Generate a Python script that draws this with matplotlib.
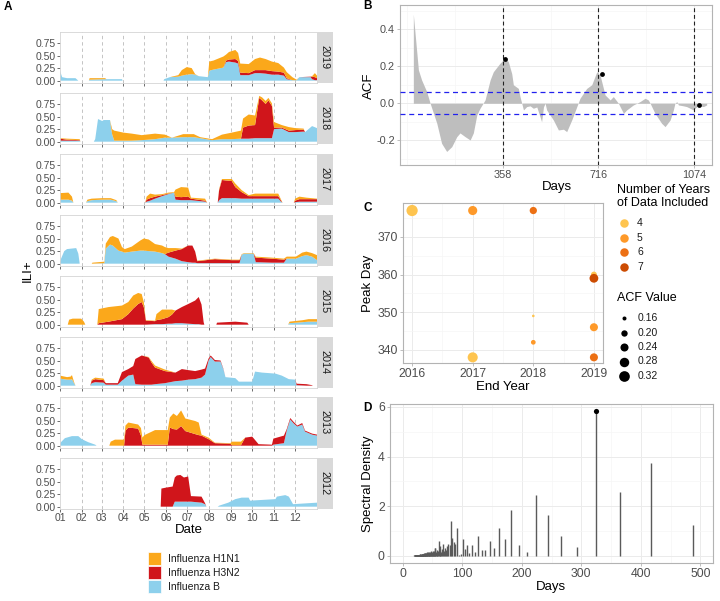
import numpy as np
import matplotlib
matplotlib.use("Agg")
import matplotlib.pyplot as plt
from matplotlib.patches import Rectangle

plt.rcParams['font.family'] = ['Liberation Sans', 'DejaVu Sans']

# ---------------- DATA ----------------
month_starts = [0, 31, 59, 90, 120, 151, 181, 212, 243, 273, 304, 334]
month_labels = ["01", "02", "03", "04", "05", "06", "07", "08", "09", "10", "11", "12"]
facet_years = [2019, 2018, 2017, 2016, 2015, 2014, 2013, 2012]
strain_names = ["Influenza H1N1", "Influenza H3N2", "Influenza B"]

days_2019 = [0, 3, 10, 22, 26, 41, 42, 64, 66, 88, 89, 147, 148, 156, 168, 173, 180, 187, 192, 197,
             210, 212, 218, 232, 236, 240, 249, 253, 256, 268, 277, 284, 292, 301, 310, 318, 322, 330,
             336, 340, 356, 358, 362, 365]
b_2019 = [.20, .07, .05, .05, 0, 0, .02, .03, .03, .03, 0, 0, .03, .07, .08, .10, .12, .13, .12, .09,
          .07, .20, .22, .26, .37, .38, .36, .34, .11, .11, .15, .15, .14, .12, .12, .10, .03, .01,
          .01, .07, .07, .03, .01, .01]
h3_2019 = [0, 0, 0, 0, 0, 0, 0, 0, 0, 0, 0, 0, 0, 0, 0, 0, 0, 0, 0, 0,
           0, 0, 0, 0, .03, .04, .07, .05, .05, .04, .06, .06, .07, .07, .06, .06, .02, 0,
           0, 0, .01, .05, .06, .04]
h1_2019 = [0, 0, 0, 0, 0, 0, .03, .02, 0, 0, 0, 0, 0, 0, .03, .11, .15, .12, .01, 0,
           0, .18, .18, .22, .12, .15, .18, .16, .18, .18, .22, .25, .22, .19, .17, .10, .12, .06,
           .01, 0, 0, .01, .08, .05]

days_2018 = [0, 10, 28, 29, 48, 50, 54, 60, 62, 71, 74, 77, 90, 102, 116, 135, 149, 159, 175, 190,
             199, 216, 230, 244, 257, 260, 268, 277, 283, 287, 292, 296, 301, 304, 315, 325, 334, 346,
             348, 358, 365]
b_2018 = [.02, .02, .02, 0, 0, .05, .45, .41, .43, .43, .15, .02, .02, .02, .03, .05, .08, .08, .09, .09,
          .07, .03, .05, .05, .06, .06, .06, .07, .07, .07, .07, .07, .07, .25, .26, .19, .19, .20,
          .19, .31, .27]
h3_2018 = [.04, .02, .01, 0, 0, 0, 0, 0, 0, 0, 0, 0, 0, 0, 0, 0, 0, 0, 0, 0,
           0, 0, 0, 0, 0, .22, .26, .26, .80, .75, .68, .75, .64, .03, .02, .03, .04, .04,
           0, 0, 0]
h1_2018 = [.01, .02, .02, 0, 0, 0, 0, 0, 0, 0, .10, .20, .16, .14, .10, .11, .06, 0, .06, .06,
           .02, .02, .09, .13, .16, .18, .22, .19, .04, .06, .06, .05, .05, .11, .05, .07, .04, .02,
           0, 0, 0]

days_2017 = [0, 12, 17, 19, 37, 39, 45, 60, 72, 80, 82, 121, 123, 128, 135, 145, 154, 162, 164, 172,
             182, 186, 206, 209, 224, 226, 230, 244, 249, 258, 268, 277, 296, 310, 314, 316, 332, 334,
             340, 350, 365]
b_2017 = [.06, .06, .04, 0, 0, .03, .05, .06, .06, .03, 0, 0, .02, .04, .08, .13, .17, .20, .06, .05,
          .05, .05, .02, 0, 0, .05, .09, .09, .09, .08, .08, .08, .08, .08, .02, 0, 0, .01,
          .02, .02, .02]
h3_2017 = [0, 0, 0, 0, 0, 0, 0, 0, 0, 0, 0, 0, .04, .05, .04, .02, .01, 0, .06, .06,
           .07, .03, .02, 0, 0, .20, .36, .34, .22, .13, .05, .05, .05, .05, .02, 0, 0, .03,
           .05, .05, .05]
h1_2017 = [.13, .14, .08, 0, 0, .03, .03, .03, .03, .02, 0, 0, .06, .09, .04, .02, .02, .01, .14, .20,
           .18, .02, .04, 0, 0, .02, .02, .04, .07, .04, .02, .05, .05, .05, .02, 0, 0, .04,
           .05, .03, .01]

days_2016 = [0, 6, 10, 23, 26, 28, 45, 46, 63, 65, 71, 75, 83, 88, 92, 102, 114, 119, 126, 135,
             145, 149, 154, 164, 173, 182, 188, 192, 195, 220, 244, 255, 258, 262, 275, 278, 301, 318,
             322, 335, 344, 350, 358, 365]
b_2016 = [.05, .25, .29, .31, .20, 0, 0, 0, .01, .30, .38, .36, .26, .24, .22, .24, .26, .26, .25, .24,
          .21, .19, .14, .10, .05, .03, .02, .02, .01, .01, .01, .01, .18, .20, .20, .03, .02, .02,
          .10, .10, .15, .17, .14, .07]
h3_2016 = [0, 0, 0, 0, 0, 0, 0, 0, 0, 0, 0, 0, 0, 0, 0, 0, 0, 0, 0, 0,
           0, 0, .08, .16, .24, .33, .34, .22, .04, .08, .06, .06, 0, 0, 0, .09, .08, .06,
           0, 0, 0, 0, 0, 0]
h1_2016 = [0, 0, 0, 0, 0, 0, 0, .02, .03, .10, .15, .19, .24, .09, .07, .10, .20, .24, .23, .15,
           .15, .14, .09, .05, .01, 0, 0, 0, .01, .01, .01, .01, .01, .01, .01, .02, .02, .02,
           .04, .04, .07, .07, .07, .10]

days_2015 = [0, 11, 13, 18, 30, 34, 36, 53, 55, 69, 88, 97, 104, 111, 116, 119, 122, 135, 137, 145,
             154, 159, 164, 173, 182, 192, 197, 201, 204, 205, 222, 223, 249, 266, 268, 324, 326, 345,
             353, 365]
b_2015 = [0, 0, 0, 0, 0, 0, 0, 0, 0, 0, 0, 0, 0, 0, 0, 0, 0, .01, .01, .01,
          .02, .02, .03, .03, .02, .01, .01, 0, 0, 0, 0, 0, 0, 0, 0, 0, .03, .05,
          .06, .06]
h3_2015 = [0, 0, 0, 0, 0, 0, 0, 0, .03, .06, .11, .21, .32, .41, .45, .35, .08, .06, .08, .10,
           .13, .18, .25, .32, .39, .47, .54, .40, .05, 0, 0, .04, .06, .04, 0, 0, 0, 0,
           0, 0]
h1_2015 = [0, 0, .10, .12, .12, .06, 0, 0, .28, .29, .27, .24, .26, .22, .16, .10, .01, .01, .12, .19,
           .15, .10, 0, 0, 0, 0, 0, 0, 0, 0, 0, 0, 0, 0, 0, 0, .03, .04,
           .05, .05]

days_2014 = [0, 10, 15, 17, 20, 22, 43, 45, 50, 62, 65, 82, 88, 97, 104, 107, 116, 126, 130, 135,
             149, 164, 173, 182, 192, 201, 206, 211, 214, 220, 228, 232, 235, 249, 254, 273, 277, 287,
             306, 315, 325, 334, 336, 350, 358, 359, 365]
b_2014 = [.14, .12, .12, .13, .05, 0, 0, .05, .07, .06, .02, .02, .10, .20, .22, .03, .02, .02, .02, .03,
          .05, .09, .10, .12, .13, .16, .22, .50, .57, .48, .48, .33, .17, .15, .08, .08, .28, .26,
          .24, .20, .13, .12, .01, 0, 0, 0, 0]
h3_2014 = [0, 0, 0, 0, 0, 0, 0, .05, .06, .05, .03, .03, .17, .13, .17, .50, .58, .54, .44, .33,
           .24, .17, .23, .19, .16, .16, .12, .04, .03, .03, .02, .01, 0, 0, 0, 0, 0, 0,
           0, 0, 0, 0, .03, .03, .01, 0, 0]
h1_2014 = [.06, .05, .06, .08, .02, 0, 0, .02, .03, .03, 0, 0, 0, 0, 0, 0, 0, .01, .03, .04,
           .03, 0, 0, 0, 0, 0, 0, 0, 0, 0, 0, 0, 0, 0, 0, 0, 0, 0,
           0, 0, 0, 0, 0, 0, 0, 0, 0]

days_2013 = [0, 7, 17, 26, 31, 40, 50, 52, 70, 72, 78, 91, 93, 97, 111, 115, 117, 120, 135, 153,
             156, 161, 166, 172, 178, 192, 197, 201, 211, 220, 242, 244, 257, 263, 273, 282, 301, 303,
             318, 322, 327, 332, 337, 344, 348, 358, 365]
b_2013 = [.05, .15, .19, .19, .13, .07, .02, 0, 0, 0, 0, 0, 0, 0, 0, 0, 0, 0, 0, 0,
          0, 0, 0, 0, 0, 0, 0, 0, 0, 0, 0, 0, 0, 0, 0, 0, 0, .02,
          .05, .30, .52, .44, .38, .42, .28, .22, .20]
h3_2013 = [0, 0, 0, 0, 0, 0, 0, 0, 0, 0, 0, 0, .30, .36, .34, .20, .02, .02, .02, .02,
           .36, .33, .32, .39, .29, .23, .21, .20, .13, .05, .04, .01, .01, .16, .18, .03, .02, .12,
           .15, .03, .03, .03, .02, .03, .02, .02, .02]
h1_2013 = [0, 0, 0, 0, 0, 0, 0, 0, 0, .08, .12, .12, .10, .10, .08, .15, .14, .19, .29, .29,
           .20, .31, .27, .31, .25, .26, .25, .02, .03, .01, .01, .07, .07, 0, 0, 0, 0, 0,
           0, 0, 0, 0, 0, 0, 0, 0, 0]

days_2012 = [0, 143, 144, 151, 160, 163, 166, 171, 176, 182, 186, 201, 206, 208, 224, 226, 239, 249,
             258, 268, 270, 306, 308, 320, 325, 331, 365]
b_2012 = [0, 0, 0, 0, 0, .10, .10, .10, .10, .10, .10, .08, .05, 0, 0, .02, .08, .15,
          .18, .18, .12, .15, .20, .23, .20, .05, .08]
h3_2012 = [0, 0, .36, .38, .40, .48, .52, .53, .48, .50, .11, .12, .02, 0, 0, 0, 0, 0,
           0, 0, 0, 0, 0, 0, 0, 0, 0]
h1_2012 = [0] * 27

# Panel B: autocorrelation
acf_lag = [22, 41, 53, 72, 85, 110, 128, 147, 166, 185, 197, 216, 235, 247, 260, 272, 291, 310, 322, 347,
           366, 378, 391, 397, 416, 422, 435, 447, 460, 472, 485, 497, 503, 510, 516, 522, 547, 566, 585,
           597, 616, 635, 647, 672, 691, 710, 722, 741, 760, 772, 791, 810, 822, 847, 860, 872, 891, 903,
           910, 928, 953, 966, 985, 997, 1003, 1010, 1016, 1035, 1047, 1060, 1072, 1085, 1097, 1110, 1122]
acf_val = [0.48, 0.18, 0.126, 0.063, 0.0, -0.108, -0.216, -0.26, -0.234, -0.18, -0.16, -0.18, -0.198,
           -0.16, -0.063, -0.027, 0.018, 0.126, 0.17, 0.216, 0.243, 0.225, 0.16, 0.10, 0.08, 0.036,
           -0.036, -0.018, -0.014, -0.027, -0.02, -0.072, -0.10, -0.02, 0.0, -0.036, -0.09, -0.144,
           -0.14, -0.153, -0.09, -0.018, 0.027, 0.08, 0.10, 0.17, 0.153, 0.045, 0.018, 0.036, 0.0,
           -0.054, -0.036, -0.009, 0.0, 0.009, 0.027, 0.018, 0.0, -0.054, -0.108, -0.126, -0.09,
           -0.036, 0.0, 0.009, -0.009, -0.014, -0.018, -0.027, -0.036, -0.018, -0.014, -0.018, -0.009]
acf_year_lines = [358, 716, 1074]
acf_peak_lag = [365, 730, 1095]
acf_peak_val = [0.24, 0.16, -0.01]
acf_ci = 0.06

# Panel C
end_year = [2016, 2017, 2018, 2019, 2019, 2018, 2018, 2019, 2017, 2019]
peak_day = [377, 377, 377, 360, 359, 349, 342, 346, 338, 338]
n_years = [4, 5, 6, 4, 7, 4, 5, 5, 4, 6]
acf_value = [0.34, 0.27, 0.22, 0.19, 0.26, 0.145, 0.17, 0.24, 0.30, 0.24]
n_years_levels = [4, 5, 6, 7]
acf_size_breaks = [0.16, 0.20, 0.24, 0.28, 0.32]

# Panel D: spectral density at harmonics k = 6..150 of a 2922-day series
series_len = 2922
spec_harmonic = list(range(6, 151))
spec_density = [1.23, 3.76, 2.59, 5.83, 0.36, 0.79, 1.64, 2.47, 0.17, 0.43,
                 1.85, 0.68, 1.13, 0.33, 0.60, 0.23, 0.23, 0.79, 0.17, 0.43,
                 0.13, 0.45, 0.27, 0.67, 0.07, 0.05, 1.11, 0.47, 0.57, 0.73,
                 1.40, 0.43, 0.47, 0.40, 0.25, 0.33, 0.20, 0.47, 0.27, 0.15,
                 0.20, 0.40, 0.60, 0.20, 0.10, 0.25, 0.15, 0.33, 0.30, 0.18,
                 0.12, 0.15, 0.20, 0.10, 0.17, 0.12, 0.18, 0.10, 0.15, 0.12,
                 0.16, 0.08, 0.14, 0.10, 0.12, 0.15, 0.09, 0.11, 0.13, 0.08,
                 0.10, 0.12, 0.07, 0.09, 0.10, 0.06, 0.08, 0.09, 0.06, 0.07,
                 0.08, 0.05, 0.07, 0.06, 0.05, 0.06, 0.05, 0.04, 0.05, 0.05,
                 0.06, 0.05, 0.06, 0.05, 0.05, 0.06, 0.04, 0.05, 0.05, 0.04,
                 0.05, 0.04, 0.04, 0.05, 0.03, 0.04, 0.04, 0.03, 0.04, 0.03,
                 0.03, 0.04, 0.03, 0.03, 0.03, 0.02, 0.03, 0.03, 0.02, 0.03,
                 0.02, 0.02, 0.03, 0.02, 0.02, 0.02, 0.02, 0.02, 0.02, 0.02,
                 0.02, 0.01, 0.02, 0.02, 0.01, 0.02, 0.01, 0.02, 0.01, 0.01,
                 0.02, 0.01, 0.01, 0.01, 0.01]

# ---------------- STYLE / LAYOUT ----------------
W, H = 720, 601
C_H1 = "#FBA81B"
C_H3 = "#D0151B"
C_B = "#8DD0EC"
YLORBR = {4: "#FEC44F", 5: "#FE9929", 6: "#EC7014", 7: "#CC4C02"}
TICK_C = "#4D4D4D"
GRID_MAJ = "#EBEBEB"
GRID_MIN = "#F5F5F5"
BORDER = "#B3B3B3"

fig = plt.figure(figsize=(W / 100, H / 100), dpi=100)


def px_axes(x0, y0, x1, y1, **kw):
    return fig.add_axes([x0 / W, 1 - y1 / H, (x1 - x0) / W, (y1 - y0) / H], **kw)


series = {
    2019: (days_2019, b_2019, h3_2019, h1_2019),
    2018: (days_2018, b_2018, h3_2018, h1_2018),
    2017: (days_2017, b_2017, h3_2017, h1_2017),
    2016: (days_2016, b_2016, h3_2016, h1_2016),
    2015: (days_2015, b_2015, h3_2015, h1_2015),
    2014: (days_2014, b_2014, h3_2014, h1_2014),
    2013: (days_2013, b_2013, h3_2013, h1_2013),
    2012: (days_2012, b_2012, h3_2012, h1_2012),
}

facet_tops = [32, 93, 154, 215, 276, 337, 397, 458]
facet_h = 51
for i, (yr, top) in enumerate(zip(facet_years, facet_tops)):
    ax = px_axes(60, top, 317, top + facet_h)
    d, b, h3, h1 = series[yr]
    for m in month_starts[1:]:
        ax.axvline(m, color="#C4C4C4", lw=0.7, ls=(0, (3.5, 3)), zorder=0)
    ax.stackplot(d, b, h3, h1, colors=[C_B, C_H3, C_H1], linewidth=0, zorder=2)
    ax.set_xlim(0, 365)
    ax.set_ylim(-0.046, 0.967)
    ax.set_yticks([0, 0.25, 0.5, 0.75])
    ax.set_yticklabels(["0.00", "0.25", "0.50", "0.75"])
    ax.set_xticks(month_starts)
    if i == len(facet_years) - 1:
        ax.set_xticklabels(month_labels)
    else:
        ax.set_xticklabels([])
        ax.tick_params(axis='x', length=0)
    ax.tick_params(labelsize=7.5, labelcolor=TICK_C, color="#333333", length=2.2, width=0.5, pad=1)
    for s in ax.spines.values():
        s.set_color("#D4D4D4")
        s.set_linewidth(0.6)
    sax = px_axes(317, top, 333, top + facet_h)
    sax.set_facecolor("#D9D9D9")
    sax.set_xticks([])
    sax.set_yticks([])
    for s in sax.spines.values():
        s.set_visible(False)
    sax.text(0.5, 0.5, str(yr), rotation=-90, ha='center', va='center', fontsize=7.8,
             color="#1A1A1A", transform=sax.transAxes)


def light_theme(ax, labelsize):
    ax.grid(which='major', color=GRID_MAJ, lw=0.7)
    ax.grid(which='minor', color=GRID_MIN, lw=0.45)
    ax.set_axisbelow(True)
    ax.tick_params(which='major', labelsize=labelsize, labelcolor=TICK_C, color=BORDER,
                   length=2.5, width=0.6, pad=1.3)
    ax.tick_params(which='minor', length=0)
    for s in ax.spines.values():
        s.set_color(BORDER)
        s.set_linewidth(0.8)


# Panel B
axB = px_axes(400, 5, 712, 165)
axB.fill_between(acf_lag, 0, acf_val, color="#BEBEBE", lw=0, zorder=2)
for yv in (acf_ci, -acf_ci):
    axB.axhline(yv, color="#2222EE", lw=0.9, ls=(0, (4, 3)), zorder=3)
for xv in acf_year_lines:
    axB.axvline(xv, color="#222222", lw=0.8, ls=(0, (3.5, 2.5)), zorder=3)
axB.scatter(acf_peak_lag, acf_peak_val, s=12, color="black", zorder=4, lw=0)
axB.set_xlim(-28, 1142)
axB.set_ylim(-0.333, 0.53)
axB.set_xticks(acf_year_lines)
axB.set_xticks([0, 179, 537, 895], minor=True)
axB.set_yticks([-0.2, 0.0, 0.2, 0.4])
axB.set_yticklabels(["-0.2", "0.0", "0.2", "0.4"])
axB.set_yticks([-0.3, -0.1, 0.1, 0.3, 0.5], minor=True)
light_theme(axB, 7.8)


# Panel C
def size_px(v):
    return np.sqrt(np.maximum(16.0 + 612.0 * (np.asarray(v, dtype=float) - 0.16), 5.0))


def s_pt2(v):
    return (size_px(v) * 0.72) ** 2


axC = px_axes(403, 203, 603, 363)
axC.scatter(end_year, peak_day, s=s_pt2(acf_value), c=[YLORBR[n] for n in n_years], lw=0, zorder=3)
axC.set_xlim(2015.85, 2019.15)
axC.set_ylim(336.5, 379)
axC.set_xticks([2016, 2017, 2018, 2019])
axC.set_xticks([2016.5, 2017.5, 2018.5], minor=True)
axC.set_yticks([340, 350, 360, 370])
axC.set_yticks([345, 355, 365, 375], minor=True)
light_theme(axC, 8.8)

# Panel D
spec_period = [series_len / k for k in spec_harmonic]
axD = px_axes(390, 404, 713, 563)
axD.vlines(spec_period, 0, spec_density, color="#5A5A5A", lw=1.0, zorder=3)
imax = int(np.argmax(spec_density))
axD.scatter([spec_period[imax]], [spec_density[imax]], s=14, color="black", lw=0, zorder=4)
axD.set_xlim(-21, 521)
axD.set_ylim(-0.29, 6.12)
axD.set_xticks([0, 100, 200, 300, 400, 500])
axD.set_xticks([50, 150, 250, 350, 450], minor=True)
axD.set_yticks([0, 2, 4, 6])
axD.set_yticks([1, 3, 5], minor=True)
light_theme(axD, 8.8)

# ---------------- Overlay text / legends ----------------
ov = fig.add_axes([0, 0, 1, 1], zorder=10)
ov.set_xlim(0, W)
ov.set_ylim(H, 0)
ov.axis('off')
ov.patch.set_alpha(0)

for lab, x, y in [("A", 4, 7), ("B", 363, 6), ("C", 363, 208), ("D", 363, 408)]:
    ov.text(x, y, lab, fontsize=8.5, fontweight='bold', ha='left', va='center')

TITLE_FS = 9.5
ov.text(28, 271, "ILI+", rotation=90, ha='center', va='center', fontsize=TITLE_FS)
ov.text(189, 530, "Date", ha='center', va='center', fontsize=TITLE_FS)
ov.text(369, 86, "ACF", rotation=90, ha='center', va='center', fontsize=TITLE_FS)
ov.text(557, 187, "Days", ha='center', va='center', fontsize=TITLE_FS)
ov.text(368, 283, "Peak Day", rotation=90, ha='center', va='center', fontsize=TITLE_FS)
ov.text(503, 387, "End Year", ha='center', va='center', fontsize=TITLE_FS)
ov.text(368, 484, "Spectral Density", rotation=90, ha='center', va='center', fontsize=TITLE_FS)
ov.text(551, 587, "Days", ha='center', va='center', fontsize=TITLE_FS)

# Legend A
leg_cols = [C_H1, C_H3, C_B]
for j, (name, col) in enumerate(zip(strain_names, leg_cols)):
    y0 = 552 + 14 * j
    ov.add_patch(Rectangle((148, y0), 13, 13, facecolor=col, edgecolor='white', lw=0.5))
    ov.text(168, y0 + 6.5, name, ha='left', va='center', fontsize=7.5, color="#1A1A1A")

# Legend C
LEG_T = 9.0
ov.text(617, 190, "Number of Years", ha='left', va='center', fontsize=LEG_T)
ov.text(617, 203, "of Data Included", ha='left', va='center', fontsize=LEG_T)
for j, n in enumerate(n_years_levels):
    y = 223 + 14.7 * j
    ov.scatter([624], [y], s=(8.5 * 0.72) ** 2, color=YLORBR[n], lw=0)
    ov.text(637, y, str(n), ha='left', va='center', fontsize=7.5, color="#1A1A1A")
ov.text(617, 298, "ACF Value", ha='left', va='center', fontsize=LEG_T)
for j, v in enumerate(acf_size_breaks):
    y = 318 + 14.5 * j
    ov.scatter([624], [y], s=s_pt2(v), color='black', lw=0)
    ov.text(638, y, f"{v:.2f}", ha='left', va='center', fontsize=7.5, color="#1A1A1A")

fig.savefig("out.png", dpi=100)
